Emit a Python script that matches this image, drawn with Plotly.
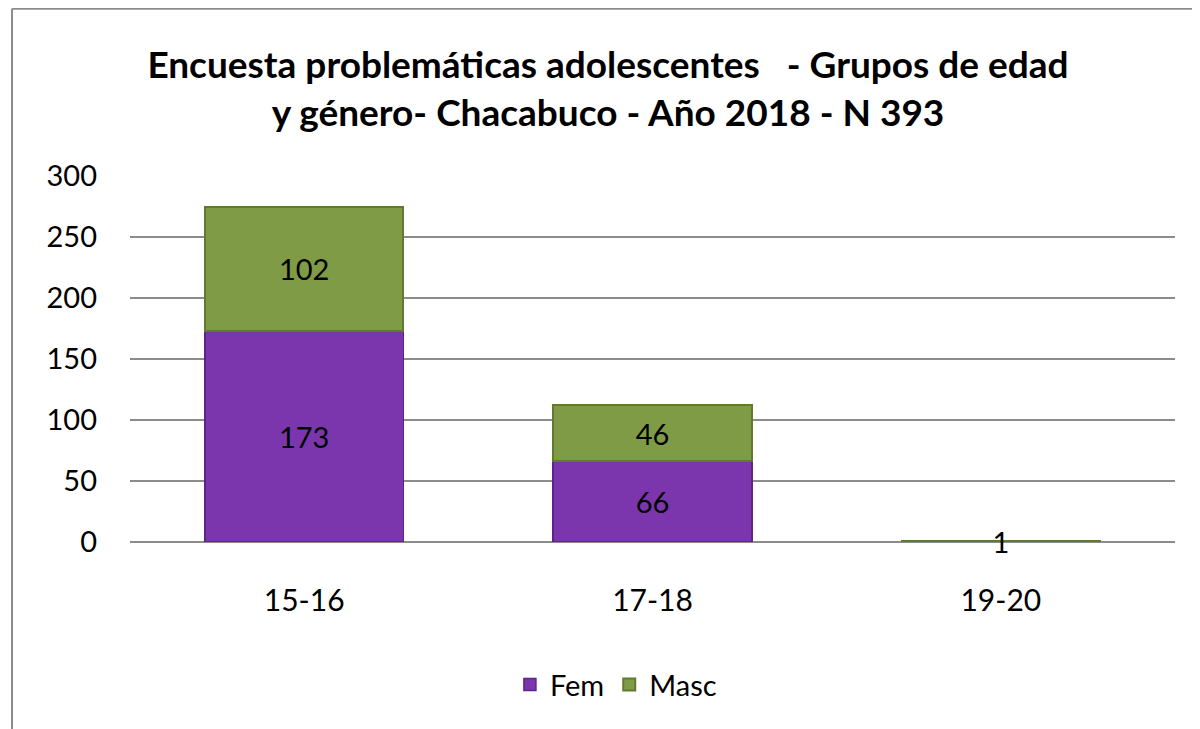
import plotly.graph_objects as go

categories = ["15-16", "17-18", "19-20"]
fem = [173, 66, None]
masc = [102, 46, 1]
title_text = "Encuesta problemáticas adolescentes   - Grupos de edad<br>y género- Chacabuco - Año 2018 - N 393"

font_family = "Lato, Open Sans, sans-serif"

fig = go.Figure()
fig.add_trace(go.Bar(
    x=categories, y=fem, name="Fem",
    marker=dict(color="#7B36AE", line=dict(color="#5E2388", width=1.5)),
    text=[str(v) if v is not None else "" for v in fem],
    textposition="inside", insidetextanchor="middle", textangle=0,
    textfont=dict(size=29, color="black", family=font_family),
))
fig.add_trace(go.Bar(
    x=categories, y=masc, name="Masc",
    marker=dict(color="#7F9B45", line=dict(color="#617A30", width=2)),
    text=[str(v) for v in masc],
    textposition="inside", insidetextanchor="middle", textangle=0,
    textfont=dict(size=29, color="black", family=font_family),
    constraintext="none",
))

fig.update_traces(cliponaxis=False)

fig.update_layout(
    barmode="stack",
    bargap=0.43,
    width=1200, height=729,
    paper_bgcolor="white", plot_bgcolor="white",
    margin=dict(l=122, r=33, t=168, b=195),
    font=dict(family=font_family, color="black"),
    uniformtext=dict(minsize=20, mode="show"),
    title=dict(
        text=title_text,
        x=0.5, xanchor="center",
        y=0.904, yanchor="middle",
        font=dict(size=37, family=font_family, weight="bold", color="black"),
    ),
    legend=dict(
        orientation="h", x=0.465, xanchor="center", y=-0.39, yanchor="middle",
        font=dict(size=29, family=font_family),
        traceorder="normal",
        itemwidth=30,
    ),
    xaxis=dict(
        showgrid=False, showline=False, ticks="",
        tickfont=dict(size=30, family=font_family),
        ticklabelstandoff=38,
    ),
    yaxis=dict(
        range=[0, 300], dtick=50,
        showgrid=True, gridcolor="#8C8C8C", gridwidth=1.5,
        zeroline=True, zerolinecolor="#8C8C8C", zerolinewidth=2,
        showline=False, ticks="",
        tickfont=dict(size=29, family=font_family),
        ticklabelstandoff=32,
    ),
    shapes=[
        dict(type="line", xref="paper", yref="paper", x0=-0.1129, x1=1.04, y0=1.457, y1=1.457,
             line=dict(color="#8C8C8C", width=2)),
        dict(type="line", xref="paper", yref="paper", x0=-0.1129, x1=-0.1129, y0=1.457, y1=-0.55,
             line=dict(color="#8C8C8C", width=2)),
    ],
)

fig.write_html("out.html")
